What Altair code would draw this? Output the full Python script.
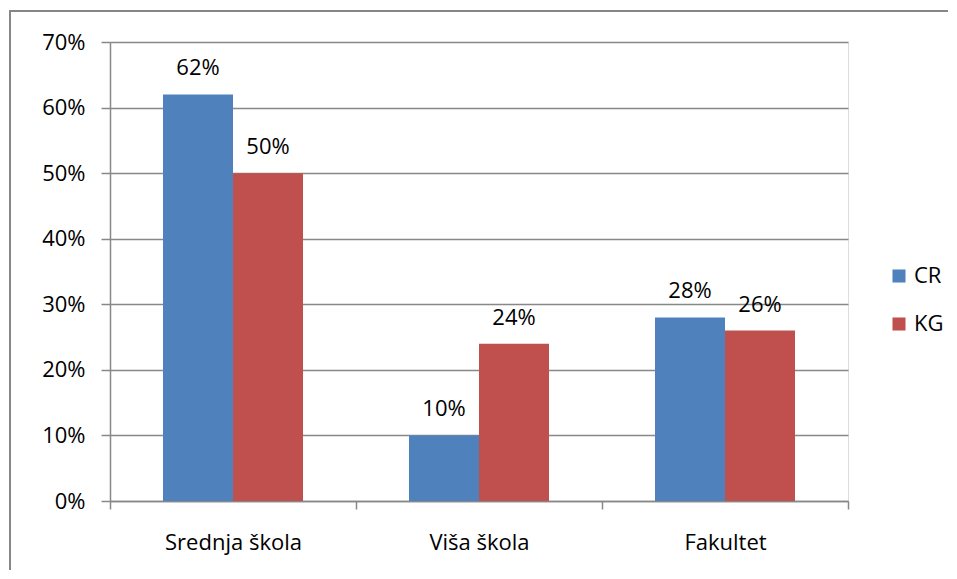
import altair as alt
import pandas as pd

categories = ["Srednja škola", "Viša škola", "Fakultet"]
series = ["CR", "KG"]
cr_values = [0.62, 0.10, 0.28]
kg_values = [0.50, 0.24, 0.26]
y_ticks = [0, 0.1, 0.2, 0.3, 0.4, 0.5, 0.6, 0.7]

rows = []
for c, v in zip(categories, cr_values):
    rows.append({"cat": c, "series": "CR", "value": v})
for c, v in zip(categories, kg_values):
    rows.append({"cat": c, "series": "KG", "value": v})
df = pd.DataFrame(rows)

FONT = "Open Sans"
FS = 22
GRID = "#888888"

x_enc = alt.X("cat:N", sort=categories, title=None,
              scale=alt.Scale(paddingInner=0, paddingOuter=0),
              axis=alt.Axis(labelAngle=0, labelFontSize=FS, labelFont=FONT, labelColor="#000000",
                            tickSize=8, tickColor=GRID, domainColor=GRID, tickWidth=1.5,
                            domainWidth=1.5, labelPadding=23, tickBand="extent", grid=False))
xoff = alt.XOffset("series:N", sort=series,
                   scale=alt.Scale(paddingInner=0, paddingOuter=0.757))
y_enc = alt.Y("value:Q", title=None,
              scale=alt.Scale(domain=[0, 0.7]),
              axis=alt.Axis(values=y_ticks, format=".0%", labelFontSize=FS, labelFont=FONT,
                            labelColor="#000000", tickSize=9, tickColor=GRID, domainColor=GRID,
                            gridColor=GRID, gridWidth=1.5, tickWidth=1.5, domainWidth=1.5,
                            labelPadding=16, grid=True))

bars = alt.Chart(df).mark_bar().encode(
    x=x_enc, xOffset=xoff, y=y_enc,
    color=alt.Color("series:N", sort=series,
                    scale=alt.Scale(domain=series, range=["#4F81BD", "#C0504D"]),
                    legend=alt.Legend(title=None, orient="none", legendX=778, legendY=223,
                                      symbolType="square", symbolSize=170, symbolStrokeWidth=0,
                                      labelFontSize=FS, labelFont=FONT, labelColor="#000000",
                                      rowPadding=26, labelOffset=4)),
)

labels = alt.Chart(df).mark_text(baseline="alphabetic", dy=-19, fontSize=FS, font=FONT, color="#000000").encode(
    x=alt.X("cat:N", sort=categories), xOffset=xoff, y="value:Q",
    text=alt.Text("value:Q", format=".0%"),
)

# chart frame (left and top edges; right and bottom lie beyond the picture)
frame_df = pd.DataFrame({"a": [0]})
border_left = alt.Chart(frame_df).mark_rect(fill="#868686", strokeWidth=0).encode(
    x=alt.value(-101), x2=alt.value(-99), y=alt.value(-32), y2=alt.value(528))
border_top = alt.Chart(frame_df).mark_rect(fill="#868686", strokeWidth=0).encode(
    x=alt.value(-101), x2=alt.value(838), y=alt.value(-32), y2=alt.value(-30))

chart = alt.layer(border_left, border_top, bars, labels).properties(
    width=738, height=459,
    autosize=alt.AutoSizeParams(type="none"),
    padding={"left": 102, "top": 34, "right": 101, "bottom": 69},
).configure_view(stroke=None).configure(background="#ffffff")

chart.save("out.html", embed_options={"renderer": "svg", "actions": False})
